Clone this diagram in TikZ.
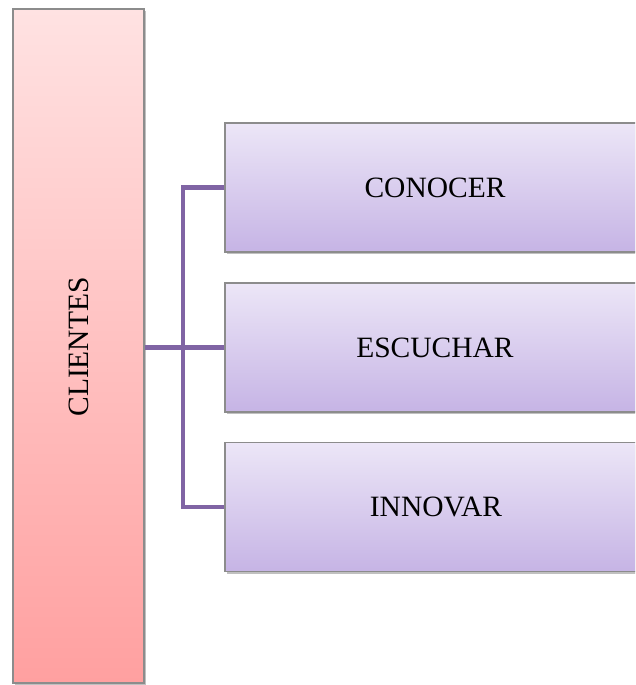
\documentclass[tikz,border=0pt]{standalone}
\usepackage{fontspec}
\setmainfont{Liberation Serif}
\usetikzlibrary{shadows}
\definecolor{connc}{RGB}{128,100,164}
\definecolor{boxline}{RGB}{140,140,140}
\definecolor{purptop}{RGB}{236,230,247}
\definecolor{purpbot}{RGB}{198,180,229}
\definecolor{pinktop}{RGB}{255,226,226}
\definecolor{pinkbot}{RGB}{255,160,160}
\tikzset{
  basebox/.style={draw=boxline, line width=1.4pt, inner sep=0pt,
    drop shadow={shadow xshift=1.5pt, shadow yshift=-2.5pt, opacity=0.35, fill=black!70},
    font=\fontsize{29.5}{32}\selectfont},
  leftbox/.style={basebox, top color=pinktop, bottom color=pinkbot,
    minimum width=131pt, minimum height=674pt},
  rightbox/.style={basebox, top color=purptop, bottom color=purpbot,
    minimum width=420pt, minimum height=129pt},
  conn/.style={draw=connc, line width=4.5pt, line join=miter}
}
\begin{document}
\begin{tikzpicture}[x=1pt,y=1pt]
\useasboundingbox (0,0) rectangle (635,685);
\clip (0,0) rectangle (635,685);
\fill[white] (0,0) rectangle (635,685);
\node[leftbox] (clientes) at (78.5,339) {};
\node[rotate=90, font=\fontsize{29.5}{32}\selectfont] (clientestxt) at (78.5,338) {CLIENTES};
\node[rightbox] (conocer) at (435,497.5) {};
\node[rightbox] (escuchar) at (435,337.5) {};
\node[rightbox] (innovar) at (435,178) {};
\node[font=\fontsize{29.5}{32}\selectfont] (t1) at (435,497.5) {CONOCER};
\node[font=\fontsize{29.5}{32}\selectfont] (t2) at (435,337.5) {ESCUCHAR};
\node[font=\fontsize{29.5}{32}\selectfont] (t3) at (436,178) {INNOVAR};
\coordinate (bus) at (183,0);
\draw[conn] (conocer.west) -- (conocer.west -| bus) -- (innovar.west -| bus) -- (innovar.west);
\draw[conn] (clientes.east |- escuchar.west) -- (escuchar.west);
\end{tikzpicture}
\end{document}
